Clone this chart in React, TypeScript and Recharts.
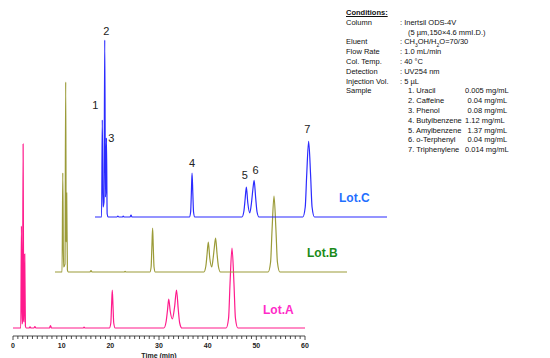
import React from 'react';
import { LineChart, ComposedChart, Line, Scatter, XAxis, YAxis, Label } from 'recharts';

// ---- chromatogram traces: [time (min), signal] ----
const lotA: [number, number][] = [
  [0, 0], [1.6, 0], [1.73, 102], [1.85, 4], [1.95, 6], [2.08, 184], [2.2, 8], [2.3, 6], [2.41, 74], [2.55, 2], [2.7, 0],
  [3.3, 0], [3.5, 1.2], [3.7, 0], [4.3, 0], [4.5, 1.5], [4.7, 0], [7.5, 0], [7.7, 2.5], [7.9, 0],
  [14.4, 0], [14.6, 0.8], [14.8, 0],
  [19.8, 0], [20.1, 5], [20.25, 22], [20.4, 38], [20.55, 22], [20.7, 5], [21.0, 0],
  [31.0, 0], [31.45, 6], [31.75, 18], [32.0, 29], [32.3, 17], [32.75, 9], [33.2, 21], [33.6, 38], [33.95, 19], [34.25, 5], [34.7, 0],
  [43.8, 0], [44.3, 10], [44.6, 45], [45.0, 80], [45.4, 45], [45.7, 10], [46.2, 0],
  [60, 0],
];

const lotB: [number, number][] = [
  [0, 0], [1.45, 0], [1.6, 99], [1.75, 5], [2.05, 8], [2.2, 190], [2.3, 30], [2.4, 79], [2.55, 2], [2.7, 0],
  [7.2, 0], [7.4, 1.5], [7.6, 0], [14.2, 0], [14.4, 0.6], [14.6, 0],
  [19.5, 0], [19.75, 5], [19.9, 24], [20.06, 44], [20.2, 24], [20.35, 5], [20.6, 0],
  [30.6, 0], [31.0, 6], [31.25, 18], [31.5, 30], [31.8, 14], [32.2, 5], [32.5, 14], [32.75, 25], [33.0, 34], [33.3, 18], [33.6, 5], [34.0, 0],
  [43.8, 0], [44.3, 10], [44.6, 42], [45.0, 76], [45.4, 42], [45.7, 10], [46.2, 0],
  [60, 0],
];

const lotC: [number, number][] = [
  [0, 0], [1.35, 0], [1.5, 97], [1.65, 10], [1.85, 15], [2.0, 177], [2.15, 20], [2.25, 30], [2.35, 79], [2.5, 3], [2.7, 0],
  [4.5, 0], [4.7, 1], [4.9, 0], [5.6, 0], [5.8, 0.8], [6.0, 0], [7.2, 0], [7.4, 2], [7.6, 0],
  [19.4, 0], [19.65, 5], [19.8, 24], [19.94, 44], [20.1, 24], [20.25, 5], [20.5, 0],
  [30.2, 0], [30.6, 6], [30.85, 18], [31.1, 30], [31.4, 14], [31.8, 4], [32.15, 14], [32.45, 28], [32.7, 36.6], [33.0, 20], [33.3, 5], [33.7, 0],
  [42.7, 0], [43.2, 10], [43.5, 42], [43.9, 75.6], [44.3, 42], [44.6, 10], [45.1, 0],
  [60, 0],
];

// ---- peak labels on Lot.C ----
const peakNumbers = ['1', '2', '3', '4', '5', '6', '7'];
const peakTimes = [1.5, 2.0, 2.35, 19.94, 31.1, 32.7, 43.9];
const peakHeights = [97, 177, 79, 44, 30, 36.6, 75.6];

// ---- axis ticks ----
const majorTicks = [0, 10, 20, 30, 40, 50, 60];
const allTicks = Array.from({ length: 61 }, (_, i) => i);

// ---- conditions text ----
const conditionRows: [string, React.ReactNode][] = [
  ['Column', ': Inertsil ODS-4V'],
  ['', '(5 µm,150×4.6 mmI.D.)'],
  ['Eluent', <span>: CH<sub style={{ fontSize: 5 }}>3</sub>OH/H<sub style={{ fontSize: 5 }}>2</sub>O=70/30</span>],
  ['Flow Rate', ': 1.0 mL/min'],
  ['Col. Temp.', ': 40 °C'],
  ['Detection', ': UV254 nm'],
  ['Injection Vol.', ': 5 µL'],
];
const sampleNames = ['1. Uracil', '2. Caffeine', '3. Phenol', '4. Butylbenzene', '5. Amylbenzene', '6. o-Terphenyl', '7. Triphenylene'];
const sampleConcs = ['0.005 mg/mL', '0.04  mg/mL', '0.08  mg/mL', '1.12 mg/mL', '1.37  mg/mL', '0.04  mg/mL', '0.014 mg/mL'];

// ---- styling ----
const FONT = '"Liberation Sans", Arial, sans-serif';
const W = 550;
const H = 358;
const Y_DOMAIN: [number, number] = [-8, 200];
const LABEL_NUDGE: [number, number][] = [[-7, -15], [1.5, -9], [5, 0], [0, -10], [-1.6, -12], [1.3, -10], [-1.3, -12.7]];

const toPts = (arr: [number, number][]) => arr.map(([t, v]) => ({ t, v }));

const renderTick = (props: any) => {
  const { x, y, payload } = props;
  const v = payload.value;
  const major = majorTicks.includes(v);
  return (
    <g>
      <line x1={x} x2={x} y1={y} y2={y + (major ? 4 : 3)} stroke="#222" strokeWidth={0.8} />
      {major && (
        <text x={x} y={y + 9.5} textAnchor="middle" dominantBaseline="central" fontSize={7} fontWeight="bold" fill="#222" fontFamily={FONT}>
          {v}
        </text>
      )}
    </g>
  );
};

const axisTitle = (props: any) => {
  const vb = props.viewBox || {};
  return (
    <text x={vb.x + vb.width / 2} y={vb.y + 19} textAnchor="middle" dominantBaseline="central" fontSize={7} fontWeight="bold" fill="#222" fontFamily={FONT}>
      Time (min)
    </text>
  );
};

const labelShape = (props: any) => {
  const { cx, cy, payload } = props;
  const [dx, dy] = LABEL_NUDGE[payload.i];
  return (
    <text x={cx + dx} y={cy + dy} textAnchor="middle" dominantBaseline="central" fontSize={11} fill="#222" fontFamily={FONT}>
      {payload.n}
    </text>
  );
};

const layer = (left: number, top: number): React.CSSProperties => ({ position: 'absolute', left, top, width: W, height: H });

export default function App() {
  const peakLabelData = peakNumbers.map((n, i) => ({ t: peakTimes[i], v: peakHeights[i], n, i }));
  const rowTop = (i: number) => 13 + 9.8 * i - 5;
  const txt: React.CSSProperties = { position: 'absolute', fontSize: 7.5, lineHeight: '10px', whiteSpace: 'pre', color: '#111', fontFamily: FONT };

  return (
    <div style={{ position: 'absolute', left: 0, top: 0, width: W, height: H, overflow: 'hidden', background: '#fff', fontFamily: FONT }}>
      {/* Lot.A with the time axis */}
      <div style={layer(0, 0)}>
        <LineChart width={W} height={H} margin={{ top: 128, right: 245, bottom: 0, left: 13 }}>
          <XAxis
            dataKey="t"
            type="number"
            domain={[0, 60]}
            ticks={allTicks}
            interval={0}
            tickSize={0}
            tickMargin={0}
            tickLine={false}
            axisLine={{ stroke: '#222', strokeWidth: 0.8 }}
            tick={renderTick}
            height={22}
          >
            <Label content={axisTitle} />
          </XAxis>
          <YAxis hide type="number" domain={Y_DOMAIN} allowDataOverflow />
          <Line data={toPts(lotA)} dataKey="v" type="monotoneX" stroke="#ff1a8c" strokeWidth={1.2} dot={false} isAnimationActive={false} />
        </LineChart>
      </div>
      {/* Lot.B */}
      <div style={layer(42, -56.3)}>
        <LineChart width={W} height={H} margin={{ top: 128, right: 245, bottom: 22, left: 13 }}>
          <XAxis hide dataKey="t" type="number" domain={[0, 60]} />
          <YAxis hide type="number" domain={Y_DOMAIN} allowDataOverflow />
          <Line data={toPts(lotB)} dataKey="v" type="monotoneX" stroke="#9b9b38" strokeWidth={1.2} dot={false} isAnimationActive={false} />
        </LineChart>
      </div>
      {/* Lot.C with peak numbers */}
      <div style={layer(81.5, -111)}>
        <ComposedChart width={W} height={H} margin={{ top: 128, right: 245, bottom: 22, left: 13 }}>
          <XAxis hide dataKey="t" type="number" domain={[0, 60]} />
          <YAxis hide dataKey="v" type="number" domain={Y_DOMAIN} allowDataOverflow />
          <Line data={toPts(lotC)} dataKey="v" type="monotoneX" stroke="#2b2bff" strokeWidth={1.2} dot={false} isAnimationActive={false} />
          <Scatter data={peakLabelData} dataKey="v" shape={labelShape} isAnimationActive={false} />
        </ComposedChart>
      </div>

      {/* lot labels */}
      <div style={{ position: 'absolute', left: 339, top: 191, fontSize: 12, fontWeight: 'bold', color: '#1f6fff', lineHeight: '15px' }}>Lot.C</div>
      <div style={{ position: 'absolute', left: 307, top: 245.5, fontSize: 12, fontWeight: 'bold', color: '#1a8a1a', lineHeight: '15px' }}>Lot.B</div>
      <div style={{ position: 'absolute', left: 263, top: 303, fontSize: 12, fontWeight: 'bold', color: '#ff2bc8', lineHeight: '15px' }}>Lot.A</div>

      {/* conditions */}
      <div style={{ ...txt, left: 346, top: rowTop(0), fontWeight: 'bold', textDecoration: 'underline' }}>Conditions:</div>
      {conditionRows.map(([k, v], i) => (
        <React.Fragment key={'c' + i}>
          {k && <div style={{ ...txt, left: 346, top: rowTop(i + 1) }}>{k}</div>}
          <div style={{ ...txt, left: k ? 400 : 408, top: rowTop(i + 1) }}>{v}</div>
        </React.Fragment>
      ))}
      <div style={{ ...txt, left: 346, top: rowTop(8) }}>Sample</div>
      {sampleNames.map((s, i) => (
        <React.Fragment key={'s' + i}>
          <div style={{ ...txt, left: 408, top: rowTop(8 + i) }}>{s}</div>
          <div style={{ ...txt, left: sampleConcs[i].includes('  ') ? 467.5 : 465, top: rowTop(8 + i) }}>{sampleConcs[i].replace('  ', ' ')}</div>
        </React.Fragment>
      ))}
    </div>
  );
}
